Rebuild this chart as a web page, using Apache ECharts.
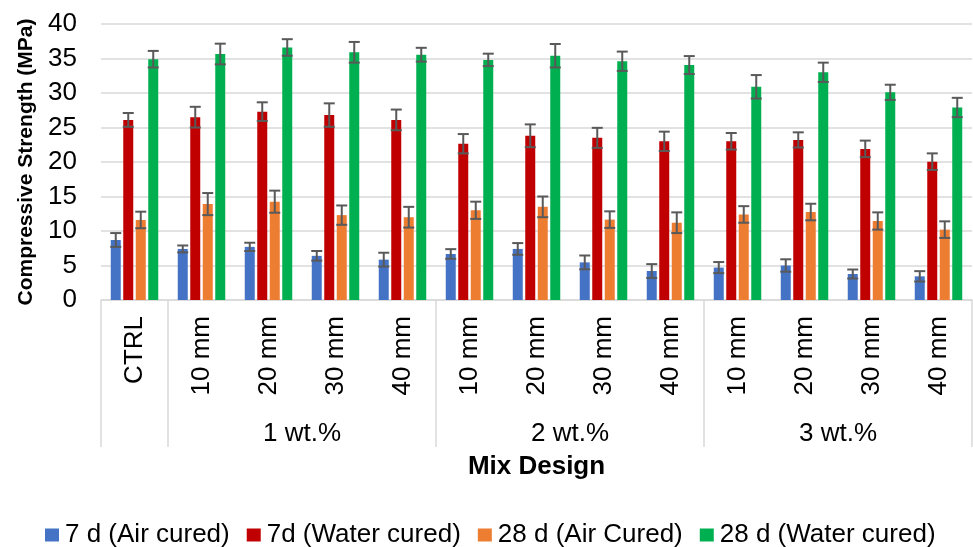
<!DOCTYPE html>
<html>
<head>
<meta charset="utf-8">
<script src="https://cdn.jsdelivr.net/npm/echarts@6/dist/echarts.min.js"></script>
<style>
  html, body { margin: 0; padding: 0; background: #fff; }
  #chart { width: 973px; height: 547px; }
</style>
</head>
<body>
<div id="chart"></div>
<script>
// Mix designs along the x axis (fibre length within each dosage group)
const categories = ['CTRL', '10 mm', '20 mm', '30 mm', '40 mm', '10 mm', '20 mm', '30 mm', '40 mm', '10 mm', '20 mm', '30 mm', '40 mm'];
// Dosage groups: the control stands alone, then four lengths per dosage
const groupNames = ['', '1 wt.%', '2 wt.%', '3 wt.%'];
const groupSizes = [1, 4, 4, 4];

const seriesNames = ['7 d (Air cured)', '7d (Water cured)', '28 d (Air Cured)', '28 d (Water cured)'];

// Mean compressive strength (MPa)
const airCured7d   = [8.7, 7.4, 7.7, 6.4, 5.85, 6.67, 7.4, 5.45, 4.2, 4.7, 5.0, 3.77, 3.43];
const waterCured7d = [26.1, 26.5, 27.3, 26.8, 26.1, 22.65, 23.8, 23.5, 23.0, 23.0, 23.2, 21.9, 20.05];
const airCured28d  = [11.6, 13.9, 14.25, 12.3, 12.0, 13.0, 13.5, 11.65, 11.2, 12.4, 12.75, 11.45, 10.2];
const waterCured28d = [34.9, 35.65, 36.6, 35.9, 35.55, 34.8, 35.4, 34.6, 34.05, 30.9, 33.0, 30.1, 27.9];

// Standard deviations (MPa)
const airCured7dSD   = [1.0, 0.5, 0.6, 0.7, 1.0, 0.7, 0.85, 1.0, 1.0, 0.8, 0.9, 0.65, 0.75];
const waterCured7dSD = [1.0, 1.5, 1.35, 1.7, 1.5, 1.4, 1.65, 1.45, 1.4, 1.2, 1.1, 1.2, 1.2];
const airCured28dSD  = [1.2, 1.6, 1.6, 1.4, 1.5, 1.25, 1.5, 1.2, 1.5, 1.2, 1.2, 1.25, 1.2];
const waterCured28dSD = [1.2, 1.5, 1.2, 1.5, 1.0, 0.9, 1.7, 1.4, 1.3, 1.7, 1.4, 1.1, 1.4];

// Y axis ticks
const yMin = 0, yMax = 40, yStep = 5;

const means = [airCured7d, waterCured7d, airCured28d, waterCured28d];
const sds = [airCured7dSD, waterCured7dSD, airCured28dSD, waterCured28dSD];
const colors = ['#4472C4', '#C00000', '#ED7D31', '#00B050'];

const FONT = "'Liberation Sans', Arial, sans-serif";
const BAR_W = 10;
const BAR_GAP = 0.25;         // fraction of bar width
const PITCH = BAR_W * (1 + BAR_GAP);

// Group boundaries (in category units) and group label positions
const bounds = [0];
groupSizes.forEach(n => bounds.push(bounds[bounds.length - 1] + n));
const labelPos = [];
const labelText = {};
groupSizes.forEach((n, i) => {
  if (groupNames[i]) {
    const c = bounds[i] + n / 2;
    labelPos.push(c);
    labelText[c] = groupNames[i];
  }
});

const barSeries = means.map((arr, s) => ({
  name: seriesNames[s],
  type: 'bar',
  data: arr,
  barWidth: BAR_W,
  barGap: (BAR_GAP * 100) + '%',
  itemStyle: { color: colors[s] },
  z: 2
}));

// Error bars (mean ± SD), drawn over the matching bar of each group
const errSeries = means.map((arr, s) => ({
  type: 'custom',
  name: seriesNames[s] + ' SD',
  xAxisIndex: 0,
  yAxisIndex: 0,
  z: 5,
  silent: true,
  data: arr.map((v, i) => [i, v - sds[s][i], v + sds[s][i]]),
  renderItem: function (params, api) {
    const off = (s - (means.length - 1) / 2) * PITCH;
    const lo = api.coord([api.value(0), api.value(1)]);
    const hi = api.coord([api.value(0), api.value(2)]);
    const x = lo[0] + off;
    const cap = 5.5;
    const st = { stroke: '#595959', lineWidth: 2 };
    return {
      type: 'group',
      children: [
        { type: 'line', shape: { x1: x, y1: lo[1], x2: x, y2: hi[1] }, style: st },
        { type: 'line', shape: { x1: x - cap, y1: lo[1], x2: x + cap, y2: lo[1] }, style: st },
        { type: 'line', shape: { x1: x - cap, y1: hi[1], x2: x + cap, y2: hi[1] }, style: st }
      ]
    };
  }
}));

const chart = echarts.init(document.getElementById('chart'), null, { renderer: 'canvas' });
chart.setOption({
  animation: false,
  backgroundColor: '#ffffff',
  textStyle: { fontFamily: FONT },
  grid: { left: 101, right: 1, top: 24, bottom: 247 },
  legend: {
    data: seriesNames,
    left: 40,
    top: 517,
    icon: 'rect',
    itemWidth: 14,
    itemHeight: 13,
    itemGap: 17,
    textStyle: { fontSize: 26, color: '#000', fontFamily: FONT, padding: [0, 0, 0, 1] }
  },
  xAxis: [
    {
      type: 'category',
      data: categories,
      position: 'bottom',
      axisLine: { show: true, lineStyle: { color: '#d9d9d9', width: 1.5 } },
      axisTick: { show: false },
      axisLabel: { rotate: 90, fontSize: 26, color: '#000', margin: 16, fontFamily: FONT, interval: 0 },
      name: 'Mix Design',
      nameLocation: 'middle',
      nameGap: 154,
      nameTextStyle: { fontSize: 26, fontWeight: 'bold', color: '#000', fontFamily: FONT }
    },
    {
      type: 'value',
      min: 0,
      max: categories.length,
      position: 'bottom',
      offset: 0,
      axisLine: { show: false },
      splitLine: { show: false },
      axisTick: {
        show: true,
        customValues: bounds,
        length: 147,
        lineStyle: { color: '#d9d9d9', width: 1.5 }
      },
      axisLabel: {
        customValues: labelPos,
        formatter: v => labelText[v] || '',
        fontSize: 26,
        color: '#000',
        margin: 121,
        fontFamily: FONT
      }
    }
  ],
  yAxis: {
    type: 'value',
    min: yMin,
    max: yMax,
    interval: yStep,
    axisLine: { show: false },
    axisTick: { show: false },
    splitLine: { lineStyle: { color: '#d9d9d9', width: 1.5 } },
    axisLabel: { fontSize: 26, color: '#000', margin: 24, fontFamily: FONT },
    name: 'Compressive Strength (MPa)',
    nameLocation: 'middle',
    nameGap: 60,
    nameTextStyle: { fontSize: 21, fontWeight: 'bold', color: '#000', fontFamily: FONT }
  },
  series: barSeries.concat(errSeries)
});
</script>
</body>
</html>
